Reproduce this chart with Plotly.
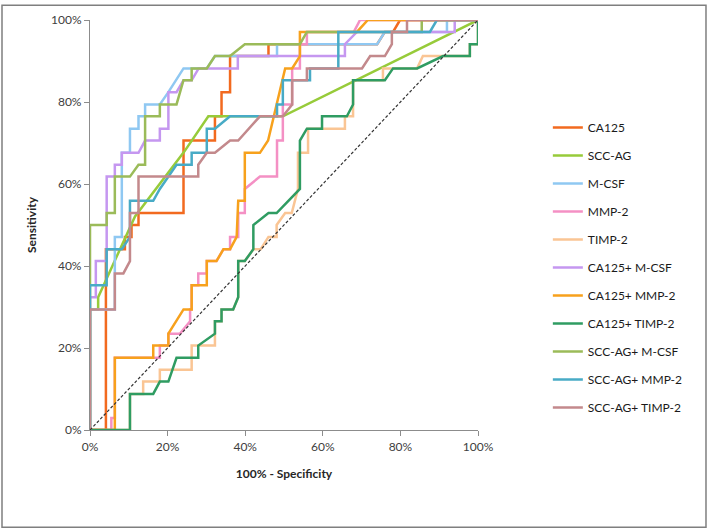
import plotly.graph_objects as go

# ---------------- data (x = 100% - Specificity, y = Sensitivity, in %) ----------------
names = ["CA125", "SCC-AG", "M-CSF", "MMP-2", "TIMP-2", "CA125+ M-CSF",
         "CA125+ MMP-2", "CA125+ TIMP-2", "SCC-AG+ M-CSF", "SCC-AG+ MMP-2", "SCC-AG+ TIMP-2"]
colors = ["#F26A1F", "#97CB3A", "#8FC8F2", "#F490C4", "#FAC594", "#C597F0",
          "#F7A11C", "#2F9C62", "#9BBB59", "#48ABC6", "#C3898C"]

ca125_x = [0, 4.1, 4.1, 9.0, 9.0, 10.7, 10.7, 12.5, 12.5, 24.1, 24.1, 32.2, 32.2, 33.9, 33.9, 36.1, 36.1, 46.0, 46.0, 74.0, 76.0, 78.1, 79.9, 100]
ca125_y = [0, 0, 44.1, 44.1, 47.1, 47.1, 50.0, 50.0, 52.9, 52.9, 70.6, 70.6, 76.5, 76.5, 82.4, 82.4, 91.2, 91.2, 94.1, 94.1, 97.1, 97.1, 100, 100]

sccag_x = [0, 0, 2.1, 2.1, 11.6, 24.3, 30.5, 49.7, 100]
sccag_y = [0, 29.4, 29.4, 32.4, 52.1, 67.9, 76.5, 76.5, 100]

mcsf_x = [0, 0, 6.4, 6.4, 8.2, 8.2, 10.3, 10.3, 12.5, 12.5, 14.2, 14.2, 18.0, 20.2, 24.1, 30.1, 32.2, 48.2, 48.2, 74.0, 76.0, 92.0, 92.0, 100]
mcsf_y = [0, 29.4, 29.4, 47.1, 47.1, 67.6, 67.6, 73.5, 73.5, 76.5, 76.5, 79.4, 79.4, 82.4, 88.2, 88.2, 91.2, 91.2, 94.1, 94.1, 97.1, 97.1, 100, 100]

mmp2_x = [0, 5.5, 5.5, 6.4, 6.4, 18.0, 18.0, 20.2, 20.2, 23.2, 25.8, 25.8, 26.2, 26.2, 27.9, 27.9, 30.1, 30.1, 32.6, 34.4, 36.1, 36.1, 38.2, 38.2, 39.9, 39.9, 43.8, 48.2, 48.2, 49.7, 49.7, 52.1, 52.1, 54.1, 54.1, 55.9, 55.9, 68.0, 69.6, 100]
mmp2_y = [0, 0, 2.9, 2.9, 17.6, 17.6, 20.6, 20.6, 23.5, 23.5, 26.5, 29.4, 29.4, 35.3, 35.3, 38.2, 38.2, 41.2, 41.2, 44.1, 44.1, 47.1, 47.1, 52.9, 52.9, 58.8, 61.8, 61.8, 70.6, 70.6, 79.4, 79.4, 88.2, 88.2, 94.1, 94.1, 97.1, 97.1, 100, 100]

timp2_x = [0, 10.3, 10.3, 13.7, 13.7, 18.0, 18.0, 26.2, 26.2, 32.2, 32.2, 33.9, 33.9, 36.9, 38.2, 38.2, 39.9, 42.1, 44.0, 46.0, 48.1, 48.1, 50.3, 52.0, 53.6, 53.6, 56.2, 56.2, 65.7, 65.7, 67.8, 67.8, 75.5, 75.5, 84.3, 85.8, 97.9, 97.9, 100, 100]
timp2_y = [0, 0, 8.8, 8.8, 11.8, 11.8, 14.7, 14.7, 20.6, 20.6, 26.5, 26.5, 29.4, 29.4, 32.4, 41.2, 41.2, 44.1, 44.1, 47.1, 47.1, 50.0, 52.9, 52.9, 58.8, 67.6, 67.6, 73.5, 73.5, 76.5, 76.5, 85.3, 85.3, 88.2, 88.2, 91.2, 91.2, 94.1, 94.1, 100]

ca125_mcsf_x = [0, 0, 1.5, 1.5, 4.3, 4.3, 6.4, 6.4, 8.2, 8.2, 12.5, 14.2, 18.0, 18.0, 20.2, 20.2, 22.3, 24.1, 26.2, 28.0, 38.1, 38.1, 65.7, 65.7, 68.8, 94.0, 94.0, 100]
ca125_mcsf_y = [0, 32.4, 32.4, 41.2, 41.2, 61.8, 61.8, 64.7, 64.7, 67.6, 67.6, 70.6, 70.6, 73.5, 73.5, 82.4, 82.4, 85.3, 85.3, 88.2, 88.2, 91.2, 91.2, 94.1, 97.1, 97.1, 100, 100]

ca125_mmp2_x = [0, 6.4, 6.4, 16.3, 16.3, 20.2, 20.2, 24.1, 26.2, 26.2, 30.1, 30.1, 32.6, 34.4, 36.1, 37.8, 38.2, 39.9, 39.9, 43.8, 45.9, 50.3, 52.1, 54.1, 54.1, 55.9, 68.8, 71.6, 100]
ca125_mmp2_y = [0, 0, 17.6, 17.6, 20.6, 20.6, 23.5, 29.4, 29.4, 35.3, 35.3, 41.2, 41.2, 44.1, 44.1, 47.1, 55.9, 55.9, 67.6, 67.6, 70.6, 88.2, 88.2, 91.2, 97.1, 97.1, 97.1, 100, 100]

ca125_timp2_x = [0, 10.3, 10.3, 16.3, 18.0, 20.2, 22.3, 27.9, 27.9, 32.2, 32.2, 33.9, 33.9, 36.9, 38.2, 38.2, 39.9, 42.1, 42.1, 46.0, 48.1, 54.1, 54.1, 55.9, 59.8, 59.8, 66.2, 67.8, 67.8, 76.0, 78.1, 84.3, 91.0, 97.9, 97.9, 100, 100]
ca125_timp2_y = [0, 0, 8.8, 8.8, 11.8, 11.8, 17.6, 17.6, 20.6, 23.5, 26.5, 26.5, 29.4, 29.4, 32.4, 41.2, 41.2, 44.1, 50.0, 52.9, 52.9, 58.8, 70.6, 73.5, 73.5, 76.5, 76.5, 79.4, 85.3, 85.3, 88.2, 88.2, 91.2, 91.2, 94.1, 94.1, 100]

sccag_mcsf_x = [0, 0, 4.3, 4.3, 6.4, 6.4, 10.3, 12.5, 14.2, 14.2, 18.0, 18.0, 22.3, 24.1, 26.2, 26.2, 30.1, 32.2, 36.1, 39.9, 54.1, 55.9, 85.5, 85.5, 100]
sccag_mcsf_y = [0, 50.0, 50.0, 52.9, 52.9, 61.8, 61.8, 64.7, 64.7, 76.5, 76.5, 79.4, 79.4, 85.3, 85.3, 88.2, 88.2, 91.2, 91.2, 94.1, 94.1, 97.1, 97.1, 100, 100]

sccag_mmp2_x = [0, 0, 4.3, 4.3, 8.2, 10.3, 10.3, 16.3, 18.0, 20.2, 22.3, 26.2, 26.2, 30.1, 30.1, 32.2, 36.1, 48.2, 48.2, 49.7, 49.7, 56.7, 56.7, 64.0, 64.0, 87.6, 89.4, 100]
sccag_mmp2_y = [0, 35.3, 35.3, 44.1, 44.1, 47.1, 55.9, 55.9, 58.8, 61.8, 64.7, 64.7, 67.6, 67.6, 73.5, 73.5, 76.5, 76.5, 79.4, 79.4, 85.3, 85.3, 88.2, 88.2, 97.1, 97.1, 100, 100]

sccag_timp2_x = [0, 0, 6.4, 6.4, 8.6, 10.3, 10.3, 12.5, 12.5, 27.9, 27.9, 30.1, 32.2, 36.1, 38.2, 41.0, 43.8, 49.7, 52.1, 52.1, 55.9, 55.9, 70.1, 72.2, 76.0, 77.8, 77.8, 81.7, 81.7, 100]
sccag_timp2_y = [0, 29.4, 29.4, 38.2, 38.2, 41.2, 52.9, 52.9, 61.8, 61.8, 64.7, 67.6, 67.6, 70.6, 70.6, 73.5, 76.5, 76.5, 79.4, 85.3, 85.3, 88.2, 88.2, 91.2, 91.2, 94.1, 97.1, 97.1, 100, 100]

ref_x = [0, 100]
ref_y = [0, 100]

series_x = [ca125_x, sccag_x, mcsf_x, mmp2_x, timp2_x, ca125_mcsf_x,
            ca125_mmp2_x, ca125_timp2_x, sccag_mcsf_x, sccag_mmp2_x, sccag_timp2_x]
series_y = [ca125_y, sccag_y, mcsf_y, mmp2_y, timp2_y, ca125_mcsf_y,
            ca125_mmp2_y, ca125_timp2_y, sccag_mcsf_y, sccag_mmp2_y, sccag_timp2_y]

fig = go.Figure()
for i, (nm, col, xs, ys) in enumerate(zip(names, colors, series_x, series_y)):
    fig.add_trace(go.Scatter(x=xs, y=ys, mode="lines", name=nm,
                             line=dict(color=col, width=2.5),
                             legendgroup="g%d" % i))

fig.add_trace(go.Scatter(x=ref_x, y=ref_y, mode="lines", showlegend=False,
                         line=dict(color="#333333", width=1.2, dash="3px,2px")))

font_family = "Lato, 'Liberation Sans', Arial, sans-serif"
axis_common = dict(range=[0, 100], dtick=20, ticksuffix="%", showgrid=False, zeroline=False,
                   showline=True, linecolor="#8C8C8C", linewidth=1.2,
                   ticks="outside", ticklen=5, tickcolor="#8C8C8C",
                   tickfont=dict(family=font_family, size=12, color="#404040"),
                   fixedrange=True)

fig.update_layout(
    width=708, height=531,
    margin=dict(l=90, r=230, t=17, b=101),
    paper_bgcolor="white", plot_bgcolor="white",
    xaxis=dict(**axis_common,
               title=dict(text="<b>100% - Specificity</b>", standoff=17,
                          font=dict(family=font_family, size=12, color="#262626"))),
    yaxis=dict(**axis_common,
               title=dict(text="<b>Sensitivity</b>", standoff=11,
                          font=dict(family=font_family, size=12, color="#262626"))),
    legend=dict(x=1.180, xanchor="left", y=0.773, yanchor="top",
                font=dict(family=font_family, size=12, color="#1a1a1a"),
                tracegroupgap=9, itemwidth=30, traceorder="grouped",
                bgcolor="rgba(0,0,0,0)"),
    shapes=[dict(type="rect", xref="paper", yref="paper",
                 x0=-0.2268, x1=1.5876, y0=-0.2373, y1=1.036,
                 line=dict(color="#7F7F7F", width=1.5), layer="below")],
)

fig.write_html("out.html", config={"displayModeBar": False},
               post_script="document.body.style.margin='0px';")
